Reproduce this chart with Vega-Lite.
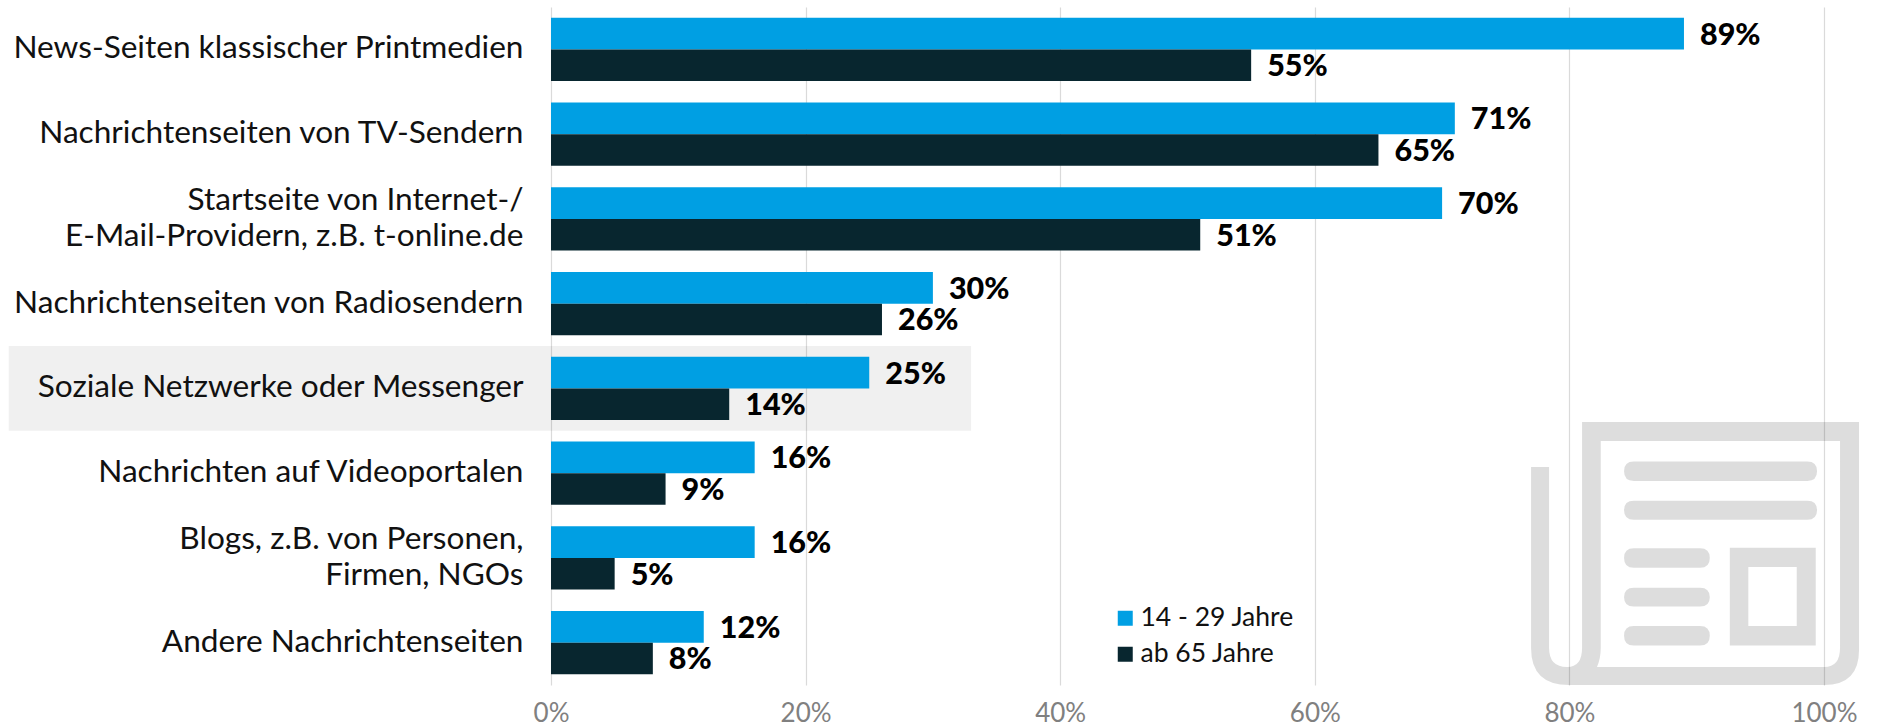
{"$schema":"https://vega.github.io/schema/vega-lite/v6.json","width":1273,"height":678,"autosize":{"type":"none"},"padding":{"left":551,"top":7,"right":53,"bottom":43},"background":"white","config":{"view":{"stroke":null},"font":"Lato"},"data":{"values":[
{"category":"News-Seiten klassischer Printmedien","group":"14 - 29 Jahre","share":0.89},
{"category":"News-Seiten klassischer Printmedien","group":"ab 65 Jahre","share":0.55},
{"category":"Nachrichtenseiten von TV-Sendern","group":"14 - 29 Jahre","share":0.71},
{"category":"Nachrichtenseiten von TV-Sendern","group":"ab 65 Jahre","share":0.65},
{"category":"Startseite von Internet-/|E-Mail-Providern, z.B. t-online.de","group":"14 - 29 Jahre","share":0.70},
{"category":"Startseite von Internet-/|E-Mail-Providern, z.B. t-online.de","group":"ab 65 Jahre","share":0.51},
{"category":"Nachrichtenseiten von Radiosendern","group":"14 - 29 Jahre","share":0.30},
{"category":"Nachrichtenseiten von Radiosendern","group":"ab 65 Jahre","share":0.26},
{"category":"Soziale Netzwerke oder Messenger","group":"14 - 29 Jahre","share":0.25},
{"category":"Soziale Netzwerke oder Messenger","group":"ab 65 Jahre","share":0.14},
{"category":"Nachrichten auf Videoportalen","group":"14 - 29 Jahre","share":0.16},
{"category":"Nachrichten auf Videoportalen","group":"ab 65 Jahre","share":0.09},
{"category":"Blogs, z.B. von Personen,|Firmen, NGOs","group":"14 - 29 Jahre","share":0.16},
{"category":"Blogs, z.B. von Personen,|Firmen, NGOs","group":"ab 65 Jahre","share":0.05},
{"category":"Andere Nachrichtenseiten\u2005","group":"14 - 29 Jahre","share":0.12},
{"category":"Andere Nachrichtenseiten\u2005","group":"ab 65 Jahre","share":0.08}
]},
"encoding":{"y":{"field":"category","type":"nominal","title":null,"scale":{"domain":["News-Seiten klassischer Printmedien","Nachrichtenseiten von TV-Sendern","Startseite von Internet-/|E-Mail-Providern, z.B. t-online.de","Nachrichtenseiten von Radiosendern","Soziale Netzwerke oder Messenger","Nachrichten auf Videoportalen","Blogs, z.B. von Personen,|Firmen, NGOs","Andere Nachrichtenseiten\u2005"],"paddingInner":0,"paddingOuter":0},"axis":{"domain":false,"ticks":false,"grid":false,"labelColor":"#111111","labelFontSize":31.6,"labelFont":"Lato","labelPadding":28,"labelLimit":700,"labelLineHeight":36,"labelOffset":{"condition":{"test":"indexof(datum.label,'|')>=0","value":-18},"value":0},"labelExpr":"split(datum.label,'|')"}}},
"layer":[
{"data":{"values":[{"category":"Soziale Netzwerke oder Messenger","from":-0.426,"to":0.33}]},"mark":{"type":"rect","fill":"#000000","opacity":0.06},"encoding":{"x":{"field":"from","type":"quantitative","title":null,"scale":{"domain":[0,1],"nice":false,"clamp":false},"axis":{"values":[0,0.2,0.4,0.6,0.8,1],"format":".0%","domain":false,"ticks":false,"grid":true,"gridColor":"#DADADA","gridWidth":1.2,"labelColor":"#808080","labelFontSize":26,"labelFont":"Lato","labelPadding":15,"labelFlush":false}},"x2":{"field":"to"}}},
{"data":{"values":[{"category":"Blogs, z.B. von Personen,|Firmen, NGOs","where":0.8987}]},"mark":{"type":"point","filled":true,"fill":"#000000","opacity":0.135,"stroke":null,"size":107584,"shape":"M-0.689 -0.829 L1 -0.829 L1 0.561 Q1 0.775 0.787 0.775 L-0.768 0.775 Q-1 0.775 -1 0.549 L-1 -0.554 L-0.89 -0.554 L-0.89 0.549 Q-0.89 0.665 -0.78 0.665 Q-0.689 0.665 -0.689 0.549 Z M-0.575 -0.713 L-0.575 0.549 Q-0.575 0.613 -0.598 0.665 L0.787 0.665 Q0.884 0.665 0.884 0.549 L0.884 -0.713 Z M-0.374 -0.587 L0.685 -0.587 Q0.744 -0.587 0.744 -0.528 Q0.744 -0.469 0.685 -0.469 L-0.374 -0.469 Q-0.433 -0.469 -0.433 -0.528 Q-0.433 -0.587 -0.374 -0.587 Z M-0.374 -0.349 L0.685 -0.349 Q0.744 -0.349 0.744 -0.291 Q0.744 -0.233 0.685 -0.233 L-0.374 -0.233 Q-0.433 -0.233 -0.433 -0.291 Q-0.433 -0.349 -0.374 -0.349 Z M-0.374 -0.059 L0.031 -0.059 Q0.09 -0.059 0.09 0 Q0.09 0.06 0.031 0.06 L-0.374 0.06 Q-0.433 0.06 -0.433 0 Q-0.433 -0.059 -0.374 -0.059 Z M-0.374 0.182 L0.031 0.182 Q0.09 0.182 0.09 0.24 Q0.09 0.297 0.031 0.297 L-0.374 0.297 Q-0.433 0.297 -0.433 0.24 Q-0.433 0.182 -0.374 0.182 Z M-0.374 0.415 L0.031 0.415 Q0.09 0.415 0.09 0.475 Q0.09 0.535 0.031 0.535 L-0.374 0.535 Q-0.433 0.535 -0.433 0.475 Q-0.433 0.415 -0.374 0.415 Z M0.212 -0.061 L0.736 -0.061 L0.736 0.535 L0.212 0.535 Z M0.325 0.055 L0.325 0.415 L0.62 0.415 L0.62 0.055 Z"},"encoding":{"x":{"field":"where","type":"quantitative","title":null,"axis":{"values":[0,0.2,0.4,0.6,0.8,1],"format":".0%","domain":false,"ticks":false,"grid":true,"gridColor":"#DADADA","gridWidth":1.2,"labelColor":"#808080","labelFontSize":26,"labelFont":"Lato","labelPadding":15,"labelFlush":false}}}},
{"mark":{"type":"bar","stroke":null},"encoding":{"x":{"field":"share","type":"quantitative","title":null,"axis":{"values":[0,0.2,0.4,0.6,0.8,1],"format":".0%","domain":false,"ticks":false,"grid":true,"gridColor":"#DADADA","gridWidth":1.2,"labelColor":"#808080","labelFontSize":26,"labelFont":"Lato","labelPadding":15,"labelFlush":false}},"yOffset":{"field":"group","type":"nominal","scale":{"domain":["14 - 29 Jahre","ab 65 Jahre"],"paddingInner":0,"paddingOuter":0.345}},"color":{"field":"group","type":"nominal","scale":{"domain":["14 - 29 Jahre","ab 65 Jahre"],"range":["#009FE3","#08262F"]},"legend":{"title":null,"orient":"none","legendX":561,"legendY":598,"symbolType":"square","symbolSize":225,"labelFontSize":26.5,"labelFont":"Lato","labelColor":"#111111","rowPadding":9,"labelOffset":2,"symbolStrokeWidth":0,"symbolOpacity":1}}}},
{"mark":{"type":"text","align":"left","baseline":"middle","dx":16,"dy":2,"fontSize":30.5,"font":"Lato","fontWeight":900,"fill":"#000000"},"encoding":{"x":{"field":"share","type":"quantitative","title":null,"axis":{"values":[0,0.2,0.4,0.6,0.8,1],"format":".0%","domain":false,"ticks":false,"grid":true,"gridColor":"#DADADA","gridWidth":1.2,"labelColor":"#808080","labelFontSize":26,"labelFont":"Lato","labelPadding":15,"labelFlush":false}},"yOffset":{"field":"group","type":"nominal","scale":{"domain":["14 - 29 Jahre","ab 65 Jahre"],"paddingInner":0,"paddingOuter":0.345}},"text":{"field":"share","type":"quantitative","format":".0%"}}}
]}
